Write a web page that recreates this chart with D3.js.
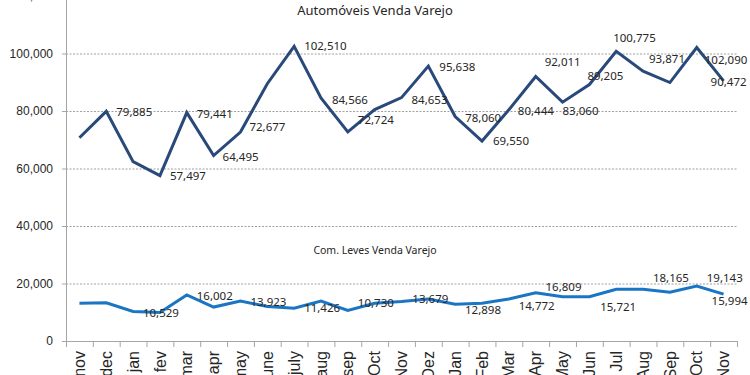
<!DOCTYPE html>
<html>
<head>
<meta charset="utf-8">
<script src="https://cdn.jsdelivr.net/npm/d3@7"></script>
<style>
  body { margin: 0; background: #fff; }
  svg { font-family: "Noto Sans", sans-serif; }
  .grid line { stroke: #a0a0a0; stroke-dasharray: 2,1.5; }
  .grid .domain { display: none; }
  .axis .domain, .axis line { stroke: #a6a6a6; }
  .axis text { fill: #262626; }
</style>
</head>
<body>
<svg width="750" height="375"></svg>
<script>
// categories (month labels)
const months = ['nov','dec','jan','fev','mar','apr','may','june','july','aug','sep','Oct',
  'Nov','Dez','Jan','Feb','Mar','Apr','May','Jun','Jul','Aug','Sep','Oct','Nov'];

// Automóveis Venda Varejo
const autoValues = [70700, 79885, 62400, 57497, 79441, 64495, 72677, 89500, 102510, 84566,
  72724, 80500, 84653, 95638, 78060, 69550, 80444, 92011, 83060, 89205,
  100775, 93871, 89900, 102090, 90472];

// Com. Leves Venda Varejo
const comValues = [13100, 13300, 10300, 9900, 16002, 11800, 13923, 12000, 11426, 13900,
  10600, 13100, 13700, 14600, 12800, 13100, 14600, 16800, 15400, 15400,
  18000, 18000, 17000, 19143, 16300];

// data labels shown: [category index, value]
const autoLabels = [[1,79885],[3,57497],[4,79441],[5,64495],[6,72677],[8,102510],[9,84566],
  [10,72724],[12,84653],[13,95638],[14,78060],[15,69550],[16,80444],[17,92011],
  [18,83060],[19,89205],[20,100775],[21,93871],[23,102090],[24,90472]];
const comLabels = [[3,10529],[4,16002],[6,13923],[8,11426],[10,10730],[13,13679],[15,12898],
  [17,14772],[18,16809],[20,15721],[22,18165],[23,19143],[24,15994]];

// label offsets from their point (dx to left edge, dy to centre)
const autoOffsets = [[10,1],[10,0],[10,1],[9,1],[9,-5],[10,0],[11,2],[10,-12],[10,2],[11,1],
  [10,1],[11,0],[9,1],[9,-14],[0,9],[-2,-9],[-3,-13],[6,-12],[8,12],[-13,1]];
const comOffsets = [[-17,0],[10,1],[10,1],[10,0],[10,-8],[-16,0],[-17,7],[-17,13],[-17,-10],
  [-16,18],[-17,-14],[10,-8],[-12,7]];

const yTicks = [0, 20000, 40000, 60000, 80000, 100000, 120000];

const margin = {top: -4, right: 13, left: 66, bottom: 34};
const innerwidth = 750 - margin.left - margin.right;
const innerheight = 375 - margin.top - margin.bottom;

const svg = d3.select('svg');
const g = svg.append('g')
  .attr('transform', `translate(${margin.left},${margin.top})`);

const idx = months.map((d, i) => i);
const xscale = d3.scaleBand().domain(idx).range([0, innerwidth]);
const xedge = d3.scaleLinear().domain([0, months.length]).range([0, innerwidth]);
const yscale = d3.scaleLinear().domain([0, 120000]).range([innerheight, 0]);
const xc = i => xscale(i) + xscale.bandwidth() / 2;

// gridlines
g.append('g').attr('class', 'grid')
  .call(d3.axisLeft(yscale).tickValues(yTicks.slice(1)).tickSize(-innerwidth).tickFormat(''));

// y axis
g.append('g').attr('class', 'axis')
  .call(d3.axisLeft(yscale).tickValues(yTicks).tickSize(4).tickPadding(9)
    .tickFormat(d3.format(',')))
  .selectAll('text').style('font-size', '12px');

// x axis: boundary ticks
g.append('g').attr('class', 'axis')
  .attr('transform', `translate(0,${innerheight})`)
  .call(d3.axisBottom(xedge).tickValues(d3.range(months.length + 1))
    .tickSize(6).tickFormat('').tickSizeOuter(0));

// x labels
const xAxisG = g.append('g').attr('class', 'axis')
  .attr('transform', `translate(0,${innerheight})`)
  .call(d3.axisBottom(xscale).tickSize(0).tickFormat(i => months[i]));
xAxisG.select('.domain').remove();
xAxisG.selectAll('text')
  .style('font-size', '16px')
  .attr('text-anchor', 'end')
  .attr('transform', 'rotate(-90)')
  .attr('x', -10)
  .attr('y', 0)
  .attr('dy', '0.35em');

const line = d3.line().x((d, i) => xc(i)).y(d => yscale(d));

g.append('path').datum(autoValues)
  .attr('fill', 'none').attr('stroke', '#29497a').attr('stroke-width', 3)
  .attr('d', line);

g.append('path').datum(comValues)
  .attr('fill', 'none').attr('stroke', '#1b75c5').attr('stroke-width', 3)
  .attr('d', line);

const fmt = d3.format(',');

function drawLabels(labels, offsets, values) {
  g.append('g').selectAll('text').data(labels).join('text')
    .attr('x', (d, k) => xc(d[0]) + offsets[k][0])
    .attr('y', (d, k) => yscale(values[d[0]]) + offsets[k][1])
    .attr('dy', '0.35em')
    .style('font-size', '11.5px')
    .attr('fill', '#262626')
    .text(d => fmt(d[1]));
}
drawLabels(autoLabels, autoOffsets, autoValues);
drawLabels(comLabels, comOffsets, comValues);

// titles
svg.append('text')
  .attr('x', 375).attr('y', 15)
  .attr('text-anchor', 'middle')
  .style('font-size', '13px').attr('fill', '#262626')
  .text('Automóveis Venda Varejo');

svg.append('text')
  .attr('x', 375).attr('y', 254)
  .attr('text-anchor', 'middle')
  .style('font-size', '10.5px').attr('fill', '#262626')
  .text('Com. Leves Venda Varejo');
</script>
</body>
</html>
